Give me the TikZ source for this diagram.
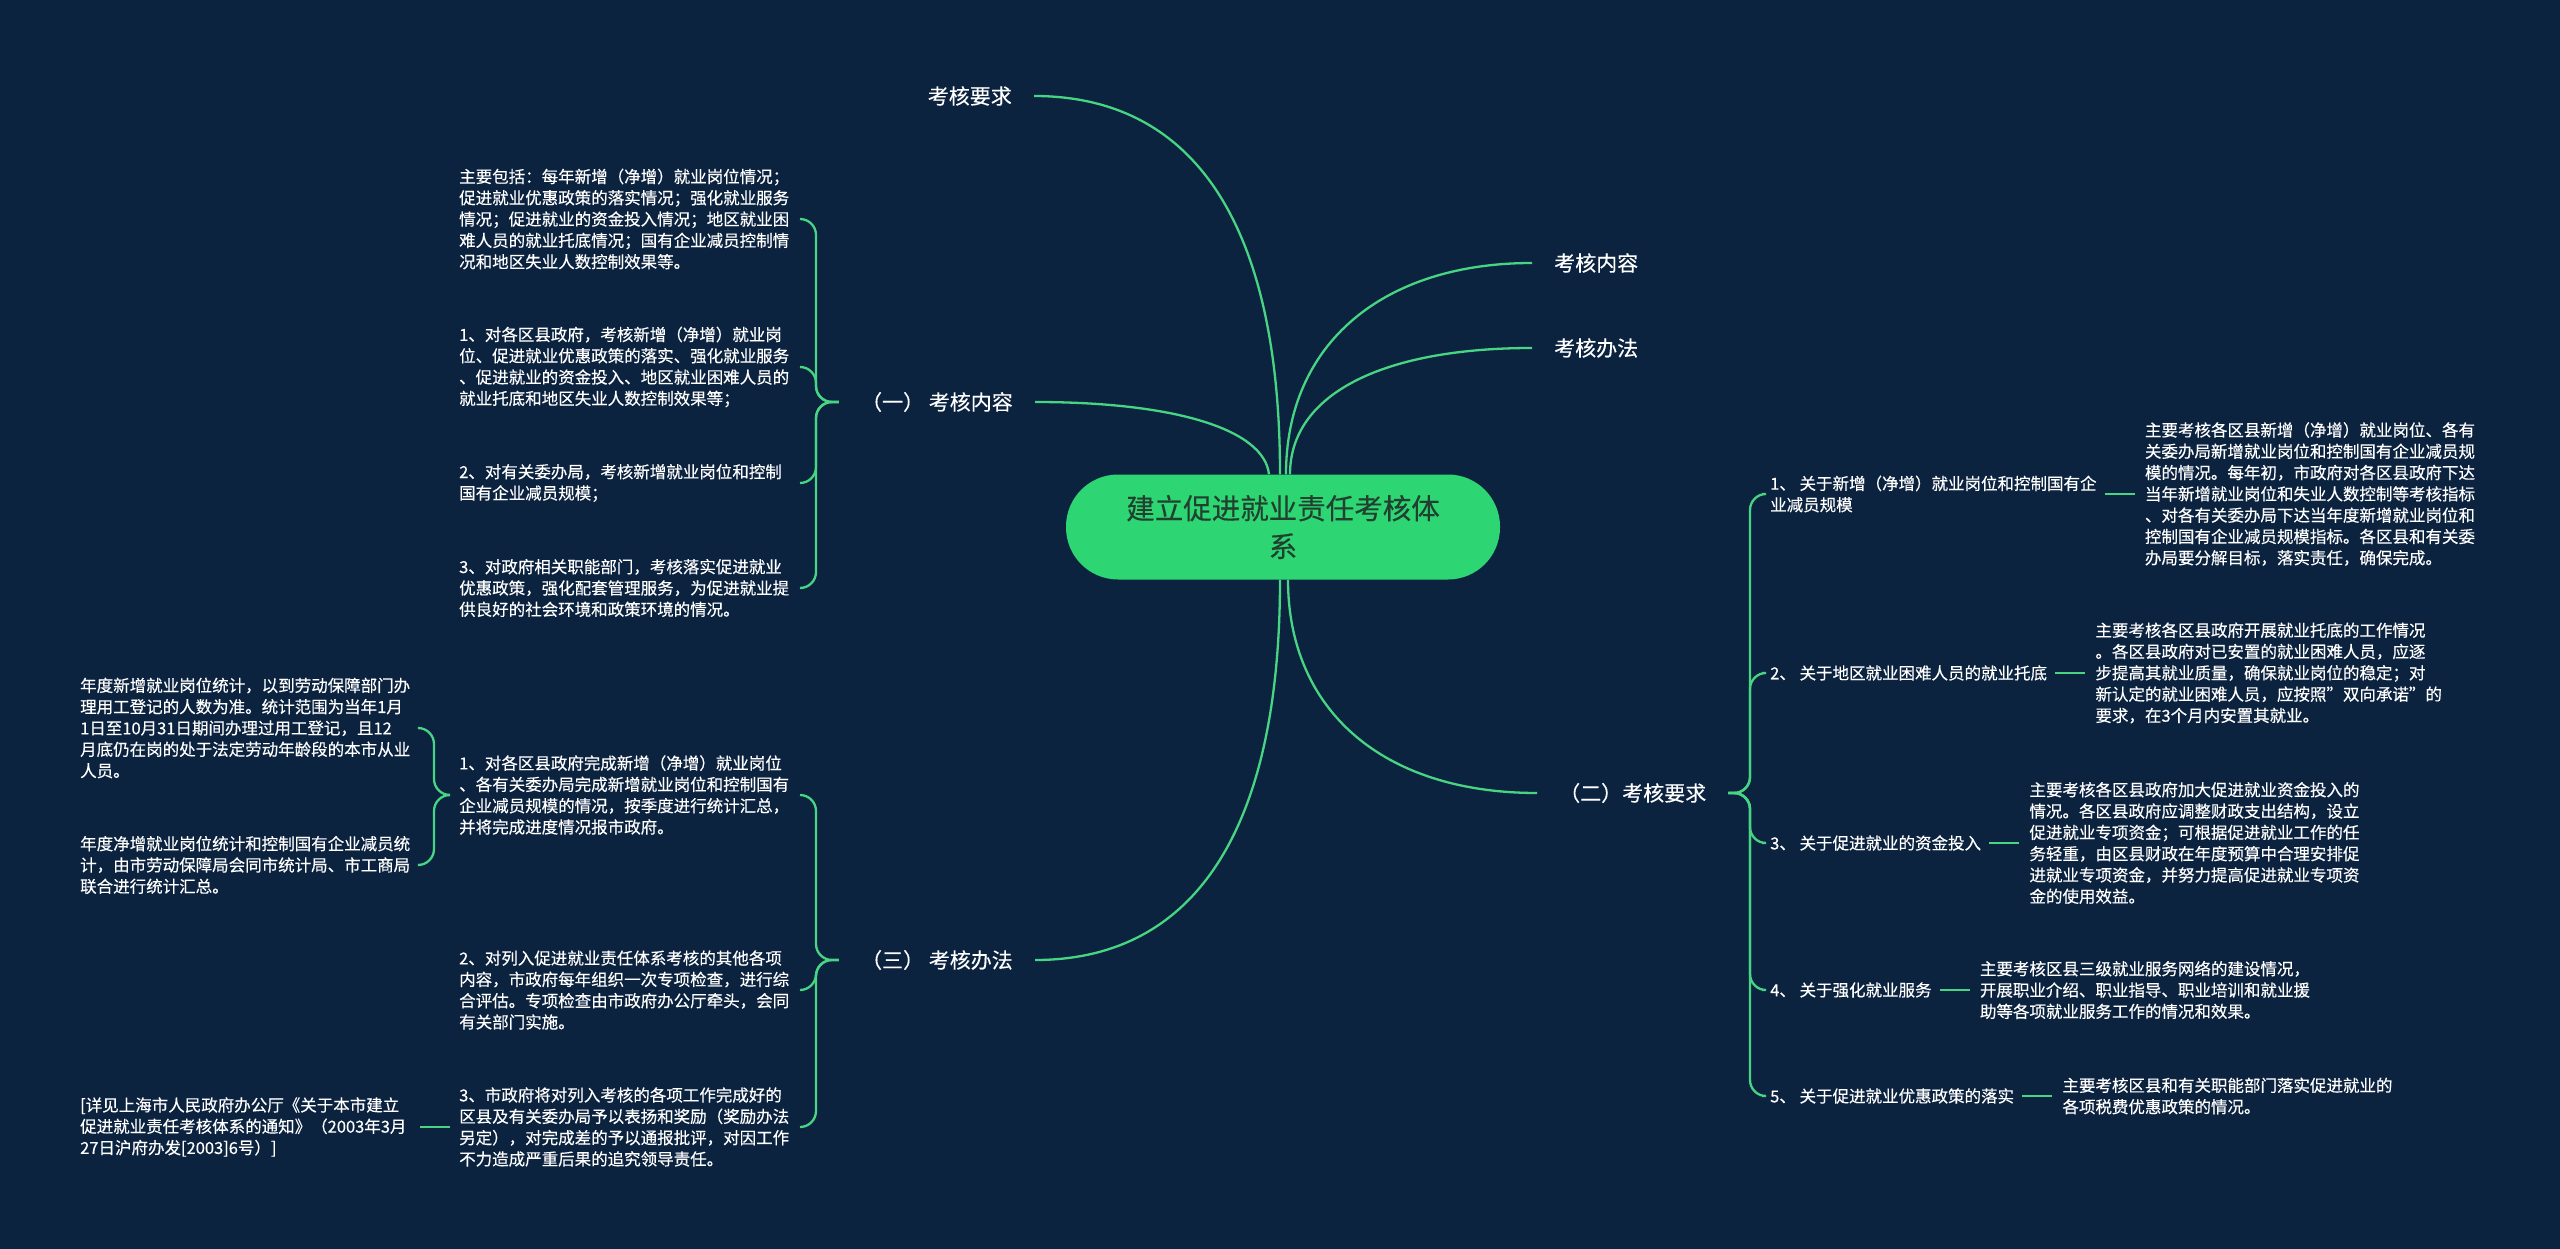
\documentclass[tikz,border=0pt]{standalone}
\usepackage{fontspec}
\setmainfont{Noto Sans CJK SC}[FakeBold=0.3]
\usetikzlibrary{positioning}
\definecolor{navy}{HTML}{0C2340}
\definecolor{twig}{HTML}{48D583}
\definecolor{rootfill}{HTML}{2ED573}
\definecolor{rootink}{HTML}{22402F}
\tikzset{
  rootbox/.style={fill=rootfill, rounded corners=52pt, minimum width=434pt,
                  minimum height=105pt, align=center, text=rootink,
                  font=\fontsize{28.5}{38}\selectfont, inner sep=0pt},
  topic/.style={text=white, font=\fontsize{21}{26}\selectfont,
                inner xsep=22pt, inner ysep=0pt},
  leaf/.style={text=white, font=\fontsize{16.5}{21.3}\selectfont,
               align=left, inner sep=0pt},
  link/.style={draw=twig, line width=2.3pt},
  forkline/.style={link, rounded corners=16pt}
}

\begin{document}
\begin{tikzpicture}[x=1pt,y=-1pt]
  \fill[navy] (0,0) rectangle (2560,1249);
  \useasboundingbox (0,0) rectangle (2560,1249);

  % centre
  \node[rootbox] (root) at (1283,527) {建立促进就业责任考核体\\系};

  % first level
  \node[topic, anchor=east] (req) at (1034,96) {考核要求};
  \node[topic, anchor=east] (cont1) at (1035,402) {（一） 考核内容};
  \node[topic, anchor=east] (meth1) at (1035,960) {（三） 考核办法};
  \node[topic, anchor=west] (cont2) at (1532,263) {考核内容};
  \node[topic, anchor=west] (meth2) at (1532,348) {考核办法};
  \node[topic, anchor=west] (req2) at (1537,793) {（二）考核要求};

  \draw[link] ([xshift=-3pt]root.north) .. controls +(0,-250) and +(160,0) .. (req.east);
  \draw[link] ([xshift=-14pt]root.north) .. controls +(-5,-45) and +(140,0) .. (cont1.east);
  \draw[link] ([xshift=3pt]root.north) .. controls +(0,-130) and +(-150,0) .. (cont2.west);
  \draw[link] ([xshift=7pt]root.north) .. controls +(0,-80) and +(-150,0) .. (meth2.west);
  \draw[link] ([xshift=-3pt]root.south) .. controls +(0,250) and +(160,0) .. (meth1.east);
  \draw[link] ([xshift=5pt]root.south) .. controls +(0,130) and +(-155,0) .. (req2.west);

  % (一) 考核内容
  \node[leaf, anchor=west] (a1) at (459,219) {主要包括：每年新增（净增）就业岗位情况；\\促进就业优惠政策的落实情况；强化就业服务\\情况；促进就业的资金投入情况；地区就业困\\难人员的就业托底情况；国有企业减员控制情\\况和地区失业人数控制效果等。};
  \node[leaf, anchor=west] (a2) at (459,367) {1、对各区县政府，考核新增（净增）就业岗\\位、促进就业优惠政策的落实、强化就业服务\\、促进就业的资金投入、地区就业困难人员的\\就业托底和地区失业人数控制效果等；};
  \node[leaf, anchor=west] (a3) at (459,483) {2、对有关委办局，考核新增就业岗位和控制\\国有企业减员规模；};
  \node[leaf, anchor=west] (a4) at (459,588) {3、对政府相关职能部门，考核落实促进就业\\优惠政策，强化配套管理服务，为促进就业提\\供良好的社会环境和政策环境的情况。};
  \coordinate (hubA) at (816,402);
  \coordinate (tipA) at (800,0);
  \foreach \n in {a1,a2,a3,a4}
    \draw[forkline] (cont1.west) -- (hubA) |- (\n.east -| tipA);

  % (三) 考核办法
  \node[leaf, anchor=west] (b1) at (459,795) {1、对各区县政府完成新增（净增）就业岗位\\、各有关委办局完成新增就业岗位和控制国有\\企业减员规模的情况，按季度进行统计汇总，\\并将完成进度情况报市政府。};
  \node[leaf, anchor=west] (b2) at (459,990) {2、对列入促进就业责任体系考核的其他各项\\内容，市政府每年组织一次专项检查，进行综\\合评估。专项检查由市政府办公厅牵头，会同\\有关部门实施。};
  \node[leaf, anchor=west] (b3) at (459,1127) {3、市政府将对列入考核的各项工作完成好的\\区县及有关委办局予以表扬和奖励（奖励办法\\另定），对完成差的予以通报批评，对因工作\\不力造成严重后果的追究领导责任。};
  \coordinate (hubB) at (816,960);
  \coordinate (tipB) at (800,0);
  \foreach \n in {b1,b2,b3}
    \draw[forkline] (meth1.west) -- (hubB) |- (\n.east -| tipB);

  \node[leaf, anchor=west] (c1) at (80,728) {年度新增就业岗位统计，以到劳动保障部门办\\理用工登记的人数为准。统计范围为当年1月\\1日至10月31日期间办理过用工登记，且12\\月底仍在岗的处于法定劳动年龄段的本市从业\\人员。};
  \node[leaf, anchor=west] (c2) at (80,865) {年度净增就业岗位统计和控制国有企业减员统\\计，由市劳动保障局会同市统计局、市工商局\\联合进行统计汇总。};
  \node[leaf, anchor=west] (c3) at (80,1127) {[详见上海市人民政府办公厅《关于本市建立\\促进就业责任考核体系的通知》（2003年3月\\27日沪府办发[2003]6号）]};
  \coordinate (hubC) at (434,795);
  \coordinate (tipC) at (420,0);
  \foreach \n in {c1,c2}
    \draw[forkline] ([xshift=-9pt]b1.west) -- (hubC) |- (\n.east -| tipC);
  \draw[link] ([xshift=-9pt]b3.west) -- (c3.east -| tipC);

  % (二) 考核要求
  \node[leaf, anchor=west] (d1) at (1770,494) {1、 关于新增（净增）就业岗位和控制国有企\\业减员规模};
  \node[leaf, anchor=west] (d2) at (1770,673) {2、 关于地区就业困难人员的就业托底};
  \node[leaf, anchor=west] (d3) at (1770,843) {3、 关于促进就业的资金投入};
  \node[leaf, anchor=west] (d4) at (1770,990) {4、 关于强化就业服务};
  \node[leaf, anchor=west] (d5) at (1770,1096) {5、 关于促进就业优惠政策的落实};
  \coordinate (hubD) at (1750,793);
  \coordinate (tipD) at (1762,0);
  \foreach \n in {d1,d2,d3,d4,d5}
    \draw[forkline] (req2.east) -- (hubD) |- (\n.west -| tipD);

  \node[leaf, right=48pt of d1] (e1) {主要考核各区县新增（净增）就业岗位、各有\\关委办局新增就业岗位和控制国有企业减员规\\模的情况。每年初，市政府对各区县政府下达\\当年新增就业岗位和失业人数控制等考核指标\\、对各有关委办局下达当年度新增就业岗位和\\控制国有企业减员规模指标。各区县和有关委\\办局要分解目标，落实责任，确保完成。};
  \node[leaf, right=48pt of d2] (e2) {主要考核各区县政府开展就业托底的工作情况\\。各区县政府对已安置的就业困难人员，应逐\\步提高其就业质量，确保就业岗位的稳定；对\\新认定的就业困难人员，应按照\char34双向承诺\char34的\\要求，在3个月内安置其就业。};
  \node[leaf, right=48pt of d3] (e3) {主要考核各区县政府加大促进就业资金投入的\\情况。各区县政府应调整财政支出结构，设立\\促进就业专项资金；可根据促进就业工作的任\\务轻重，由区县财政在年度预算中合理安排促\\进就业专项资金，并努力提高促进就业专项资\\金的使用效益。};
  \node[leaf, right=48pt of d4] (e4) {主要考核区县三级就业服务网络的建设情况，\\开展职业介绍、职业指导、职业培训和就业援\\助等各项就业服务工作的情况和效果。};
  \node[leaf, right=48pt of d5] (e5) {主要考核区县和有关职能部门落实促进就业的\\各项税费优惠政策的情况。};
  \foreach \n in {1,...,5}
    \draw[link] ([xshift=8pt]d\n.east) -- ([xshift=-10pt]e\n.west);
\end{tikzpicture}
\end{document}
